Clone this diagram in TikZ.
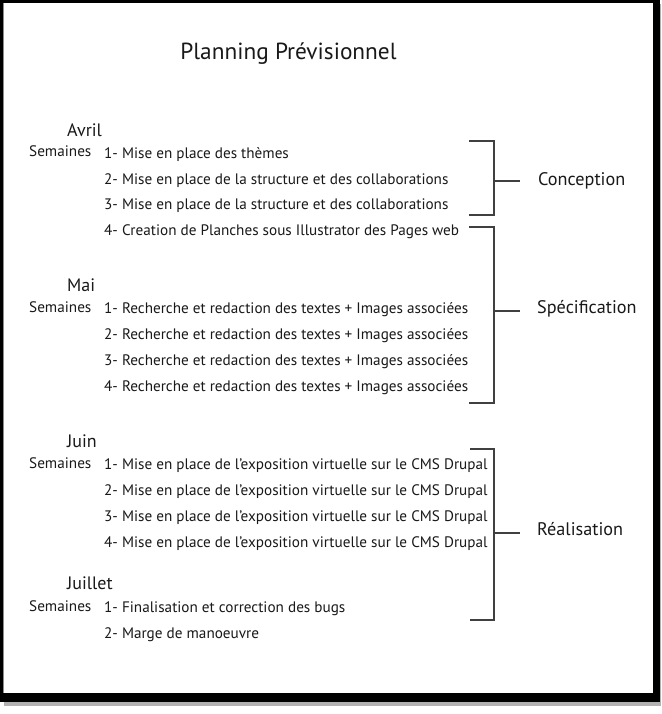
\documentclass[tikz,border=0pt]{standalone}
\usepackage{fontspec}
\setmainfont{PT Sans}
\usetikzlibrary{positioning}

\begin{document}
\begin{tikzpicture}[
  x=1pt, y=-1pt,
  every node/.style={inner sep=0pt, text=black!90},
  item/.style={anchor=base west, font=\fontsize{15.2}{18}\selectfont},
  month/.style={anchor=base west, font=\fontsize{18}{21}\selectfont},
  phase/.style={anchor=west, font=\fontsize{18.2}{21}\selectfont},
  brace/.style={line width=1.5pt, draw=black!75}
]
\useasboundingbox (0,0) rectangle (661,714);
% cadre avec ombre
\fill[black!30] (4,4) rectangle (661,706);
\fill[black] (0,0) rectangle (660,702);
\fill[black!45] (3,3) rectangle (653,693);
\fill[white] (3.5,3.5) rectangle (652.5,692.5);

\node[anchor=base, font=\fontsize{23.3}{28}\selectfont] (titre) at (288.5,59.3) {Planning Prévisionnel};

% Avril
\node[month] (avril) at (67,136.7) {Avril};
\node[item] (sem1) at (29,156.7) {Semaines};
\node[item] (a1) at (104,158.3) {1- Mise en place des thèmes};
\node[item] (a2) at (104,184) {2- Mise en place de la structure et des collaborations};
\node[item] (a3) at (104,209.5) {3- Mise en place de la structure et des collaborations};
\node[item] (a4) at (104,235.5) {4- Creation de Planches sous Illustrator des Pages web};

% Mai
\node[month] (mai) at (67,291) {Mai};
\node[item] (sem2) at (29,312) {Semaines};
\foreach \i/\y in {1/313.5,2/339.5,3/365.5,4/391.5}
  \node[item] (m\i) at (104,\y) {\i- Recherche et redaction des textes + Images associées};

% Juin
\node[month] (juin) at (67,447) {Juin};
\node[item] (sem3) at (29,468) {Semaines};
\foreach \i/\y in {1/469.5,2/495.5,3/521.5,4/547.5}
  \node[item] (j\i) at (104,\y) {\i- Mise en place de l’exposition virtuelle sur le CMS Drupal};

% Juillet
\node[month] (juillet) at (67,589) {Juillet};
\node[item] (sem4) at (29,611) {Semaines};
\node[item] (jl1) at (104,612.5) {1- Finalisation et correction des bugs};
\node[item] (jl2) at (104,638.5) {2- Marge de manoeuvre};

% phases
\node[phase] (conc) at (538,181) {Conception};
\node[phase] (spec) at (537,308.5) {Spécification};
\node[phase] (real) at (537,529) {Réalisation};

\coordinate (b1) at (494,181);
\coordinate (b2) at (494,311);
\coordinate (b3) at (494,533);

\draw[brace] (469,141) -| (494,215) -- (469,215);
\draw[brace] (469,227) -| (494,403) -- (469,403);
\draw[brace] (470,449) -| (494,620) -- (470,620);

\draw[brace] (b1) -- ++(26,0);
\draw[brace] (b2) -- ++(26,0);
\draw[brace] (b3) -- ++(26,0);
\end{tikzpicture}
\end{document}
